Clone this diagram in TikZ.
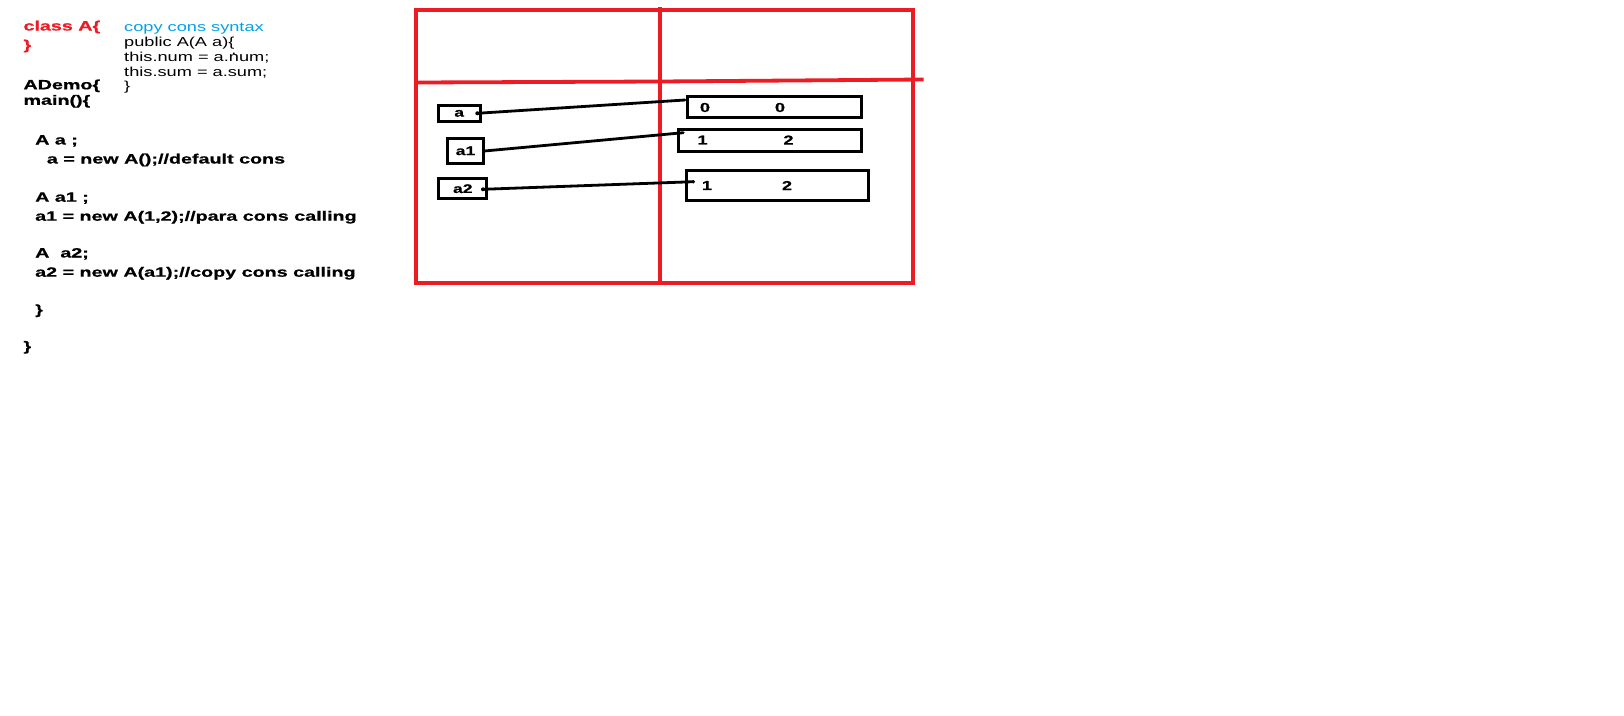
\documentclass[tikz,border=0pt]{standalone}
\usepackage{fontspec}
\setmainfont{Liberation Sans}[BoldFeatures={FakeBold=0.6}]
\usepackage{graphicx}
\definecolor{pred}{HTML}{ED1C24}
\definecolor{pblue}{HTML}{00A2E8}
\newcommand{\xst}[1]{\scalebox{1.4}[1]{#1}}
\newcommand{\xsb}[1]{\scalebox{1.46}[1]{#1}}
\begin{document}
\begin{tikzpicture}[x=1pt,y=-1pt,
  codeline/.style={anchor=base west, inner sep=0pt, font=\fontsize{13.5}{16}\selectfont\bfseries},
  bluecode/.style={anchor=base west, inner sep=0pt, font=\fontsize{13}{15}\selectfont},
  redline/.style={draw=pred, line width=3.8pt},
  ptrbox/.style={draw, line width=3pt, inner sep=0pt, font=\fontsize{12.5}{14}\selectfont\bfseries},
  objbox/.style={draw, line width=3pt, inner sep=0pt},
  val/.style={inner sep=0pt, font=\fontsize{13}{15}\selectfont\bfseries},
  conn/.style={line width=2.8pt, line cap=round}]
\fill[white] (0,0) rectangle (1624,715);
\useasboundingbox (0,0) rectangle (1624,715);

% left code
\node[codeline, text=pred] (l1) at (23.3,30.5) {\xsb{class A\{}};
\node[codeline, text=pred] (l2) at (23.3,49.5) {\xsb{\}}};
\node[codeline] (l3) at (23.3,89.3) {\xsb{ADemo\{}};
\node[codeline] (l4) at (23.3,104.8) {\xsb{main()\{}};
\node[codeline] (l5) at (35,144.5) {\xsb{A a ;}};
\node[codeline] (l6) at (46.7,163.5) {\xsb{a = new A();//default cons}};
\node[codeline] (l7) at (35,201.7) {\xsb{A a1 ;}};
\node[codeline] (l8) at (35,220.7) {\xsb{a1 = new A(1,2);//para cons calling}};
\node[codeline] (l9) at (35,257.5) {\xsb{A\ \ a2;}};
\node[codeline] (l10) at (35,276.7) {\xsb{a2 = new A(a1);//copy cons calling}};
\node[codeline] (l11) at (35,314.2) {\xsb{\}}};
\node[codeline] (l12) at (23.3,350.8) {\xsb{\}}};

% copy constructor syntax
\node[bluecode, text=pblue] (c1) at (124,31) {\xst{copy cons syntax}};
\node[bluecode] (c2) at (124,46) {\xst{public A(A a)\{}};
\node[bluecode] (c3) at (124,61.8) {\xst{this.num = a.\rlap{\raisebox{7.2pt}{\kern1.8pt.}}num;}};
\node[bluecode] (c4) at (124,76.3) {\xst{this.sum = a.sum;}};
\node[bluecode] (c5) at (124,90.7) {\xst{\}}};

% memory frame
\draw[redline] (416.2,10) rectangle (912.8,282.7);
\draw[redline] (660,7.3) -- (660,285);
\draw[redline] (416.2,82.5) -- (660,81.5) -- (923.5,79.5);

% reference boxes
\node[ptrbox, minimum width=42pt, minimum height=15.7pt] (ba) at (459.2,113.35) {\xst{a}};
\node[ptrbox, minimum width=36pt, minimum height=25.3pt] (ba1) at (465.5,150.85) {\xst{a1}};
\node[ptrbox, minimum width=48pt, minimum height=19.7pt] (ba2) at (462.8,188.65) {\xst{a2}};

% objects
\node[objbox, minimum width=174pt, minimum height=21pt] (ob0) at (774.25,107) {};
\node[objbox, minimum width=183.5pt, minimum height=21.4pt] (ob1) at (770,140.5) {};
\node[objbox, minimum width=181.5pt, minimum height=29.4pt] (ob2) at (777.25,185.5) {};
\node[val] (v01) at (705,107.5) {\xst{0}};
\node[val] (v02) at (780,107.5) {\xst{0}};
\node[val] (v11) at (702.5,140) {\xst{1}};
\node[val] (v12) at (788.5,140) {\xst{2}};
\node[val] (v21) at (707,185.5) {\xst{1}};
\node[val] (v22) at (787,185.5) {\xst{2}};

% connectors
\coordinate (sa) at (477.3,113.3);
\coordinate (ea) at (685,100);
\coordinate (sa1) at (484.5,151);
\coordinate (ea1) at (683.3,132.7);
\coordinate (sa2) at (483,189.3);
\coordinate (ea2) at (693.3,181.7);
\draw[conn] (sa) -- (ea);
\draw[conn] (sa1) -- (ea1);
\draw[conn] (sa2) -- (ea2);
\fill (sa) circle (2);
\fill (sa2) circle (2);
\fill (ea2) circle (1.8);
\end{tikzpicture}
\end{document}
